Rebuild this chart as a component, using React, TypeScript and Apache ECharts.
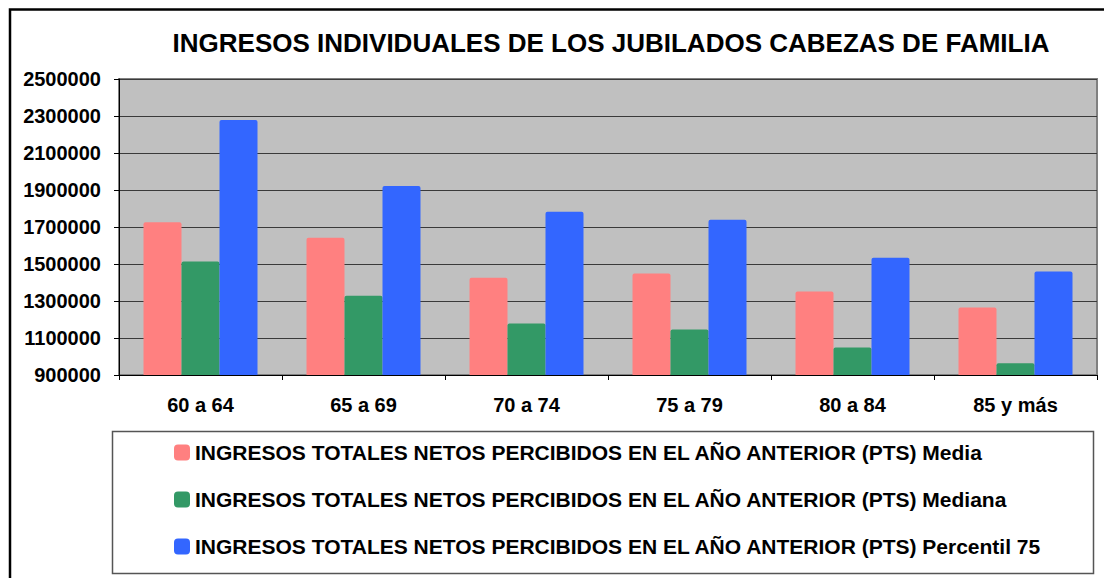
import React, { useEffect, useRef } from 'react';
import * as echarts from 'echarts';

const categories = ['60 a 64', '65 a 69', '70 a 74', '75 a 79', '80 a 84', '85 y más'];
const seriesNames = [
  'INGRESOS TOTALES NETOS PERCIBIDOS EN EL AÑO ANTERIOR (PTS) Media',
  'INGRESOS TOTALES NETOS PERCIBIDOS EN EL AÑO ANTERIOR (PTS) Mediana',
  'INGRESOS TOTALES NETOS PERCIBIDOS EN EL AÑO ANTERIOR (PTS) Percentil 75',
];
const media = [1726000, 1642000, 1426000, 1448000, 1351000, 1265000];
const mediana = [1514000, 1329000, 1178000, 1146000, 1049000, 963000];
const percentil75 = [2279000, 1922000, 1782000, 1739000, 1534000, 1459000];
const yTicks = [900000, 1100000, 1300000, 1500000, 1700000, 1900000, 2100000, 2300000, 2500000];
const titleText = 'INGRESOS INDIVIDUALES DE LOS JUBILADOS CABEZAS DE FAMILIA';

const colors = ['#FF8080', '#339966', '#3366FF'];
const FONT = '"Liberation Sans", Arial, sans-serif';

export default function App() {
  const ref = useRef<HTMLDivElement>(null);
  useEffect(() => {
    if (!ref.current) return;
    const chart = echarts.init(ref.current, null, { renderer: 'svg' });
    const seriesData = [media, mediana, percentil75];
    chart.setOption({
      animation: false,
      backgroundColor: '#ffffff',
      textStyle: { fontFamily: FONT },
      graphic: [
        {
          type: 'rect',
          silent: true,
          z: 100,
          shape: { x: 10, y: 9.5, width: 1300, height: 800 },
          style: { fill: 'none', stroke: '#000', lineWidth: 2.5 },
        },
        {
          type: 'text',
          silent: true,
          x: 611,
          y: 43,
          style: {
            text: titleText,
            font: `bold 26px ${FONT}`,
            fill: '#000',
            align: 'center',
            verticalAlign: 'middle',
          },
        },
        {
          type: 'rect',
          silent: true,
          shape: { x: 112.5, y: 431.5, width: 981, height: 142 },
          style: { fill: 'none', stroke: '#555', lineWidth: 1.5 },
        },
      ],
      grid: {
        left: 119,
        top: 79,
        right: 7,
        bottom: 203,
        show: true,
        backgroundColor: '#C0C0C0',
        borderColor: '#808080',
        borderWidth: 2,
      },
      legend: {
        orient: 'vertical',
        left: 174,
        top: 442,
        itemWidth: 16,
        itemHeight: 16,
        itemGap: 26,
        icon: 'roundRect',
        padding: 0,
        textStyle: {
          fontFamily: FONT,
          fontSize: 21,
          fontWeight: 'bold',
          color: '#000',
          lineHeight: 20,
        },
        data: seriesNames,
      },
      xAxis: {
        type: 'category',
        data: categories,
        axisLine: { lineStyle: { color: '#000', width: 1 } },
        axisTick: { show: true, length: 5, lineStyle: { color: '#000' } },
        axisLabel: {
          fontFamily: FONT,
          fontSize: 20,
          fontWeight: 'bold',
          color: '#000',
          margin: 20,
        },
        splitLine: { show: false },
      },
      yAxis: {
        type: 'value',
        min: 900000,
        max: 2500000,
        axisLine: { show: true, lineStyle: { color: '#000', width: 1 } },
        axisTick: { show: true, length: 5, lineStyle: { color: '#000' }, customValues: yTicks },
        axisLabel: {
          fontFamily: FONT,
          fontSize: 20,
          fontWeight: 'bold',
          color: '#000',
          margin: 18,
          customValues: yTicks,
          formatter: (v: number) => String(v),
        },
        splitLine: { show: true, lineStyle: { color: '#3a3a3a', width: 1 } },
      },
      series: seriesNames.map((name, i) => ({
        name,
        type: 'bar',
        data: seriesData[i],
        barWidth: 38,
        barGap: '0%',
        itemStyle: { color: colors[i], borderRadius: [2, 2, 0, 0] },
      })),
    });
    return () => chart.dispose();
  }, []);
  return (
    <div
      ref={ref}
      style={{ position: 'absolute', left: 0, top: 0, width: 1104, height: 578, background: '#fff' }}
    />
  );
}
